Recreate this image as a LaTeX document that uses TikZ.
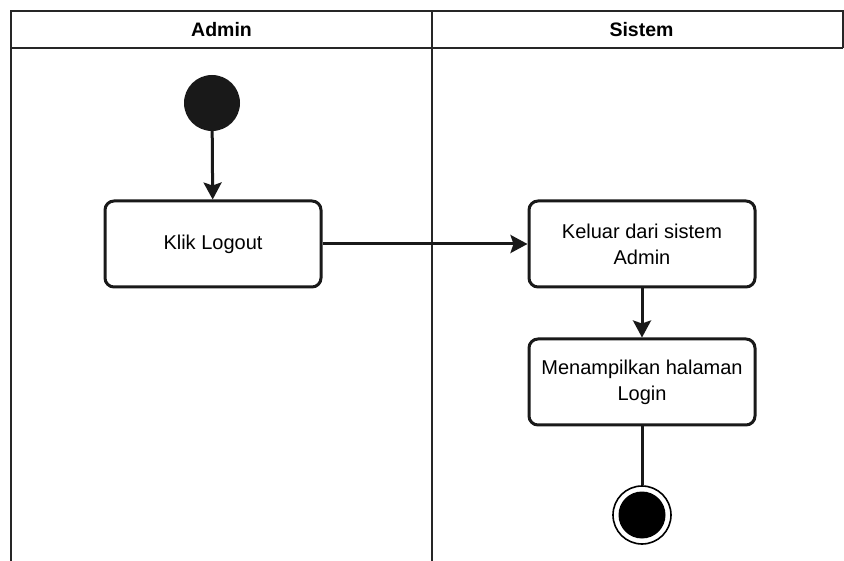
\documentclass[tikz,border=0pt]{standalone}
\usepackage{fontspec}
\setmainfont{Liberation Sans}
\usetikzlibrary{arrows.meta}
\begin{document}
\begin{tikzpicture}[x=1pt,y=-1pt,
  lane/.style={draw=black!85, line width=2pt},
  act/.style={draw=black!90, line width=3pt, rounded corners=9pt, fill=white, minimum width=216pt, minimum height=86pt, align=center, font=\fontsize{20}{26}\selectfont, inner sep=0pt},
  hdr/.style={font=\bfseries\fontsize{19.5}{22}\selectfont},
  flow/.style={draw=black!90, line width=3pt, -{Stealth[width=18pt,length=17pt,inset=3pt,fill=black!90]}},
  flowline/.style={draw=black!90, line width=3pt}]
\useasboundingbox (0,0) rectangle (844,561);
% swimlanes
\draw[lane] (11,561) -- (11,11) -- (843,11) -- (843,48);
\draw[lane] (11,48) -- (843,48);
\draw[lane] (432,11) -- (432,561);
\node[hdr] (hA) at (221.5,29.5) {Admin};
\node[hdr] (hS) at (641.5,29.5) {Sistem};
% nodes
\node[circle, fill=black!90, minimum size=56pt, inner sep=0pt] (start) at (212,103) {};
\node[act] (klik) at (213,244) {\raisebox{-1.5pt}{Klik Logout}};
\node[act, minimum width=226pt] (kel) at (642,244) {Keluar dari sistem\\Admin};
\node[act, minimum width=226pt] (men) at (642,382) {Menampilkan halaman\\Login};
\node[circle, draw=black, line width=1.6pt, fill=white, minimum size=58pt, inner sep=0pt] (end) at (642,515) {};
\node[circle, fill=black, minimum size=47pt, inner sep=0pt] (endin) at (end.center) {};
% edges
\draw[flow] (start) -- (klik);
\draw[flow] (klik) -- (kel);
\draw[flow] (kel) -- (men);
\draw[flowline] (men) -- (end);
\end{tikzpicture}
\end{document}
